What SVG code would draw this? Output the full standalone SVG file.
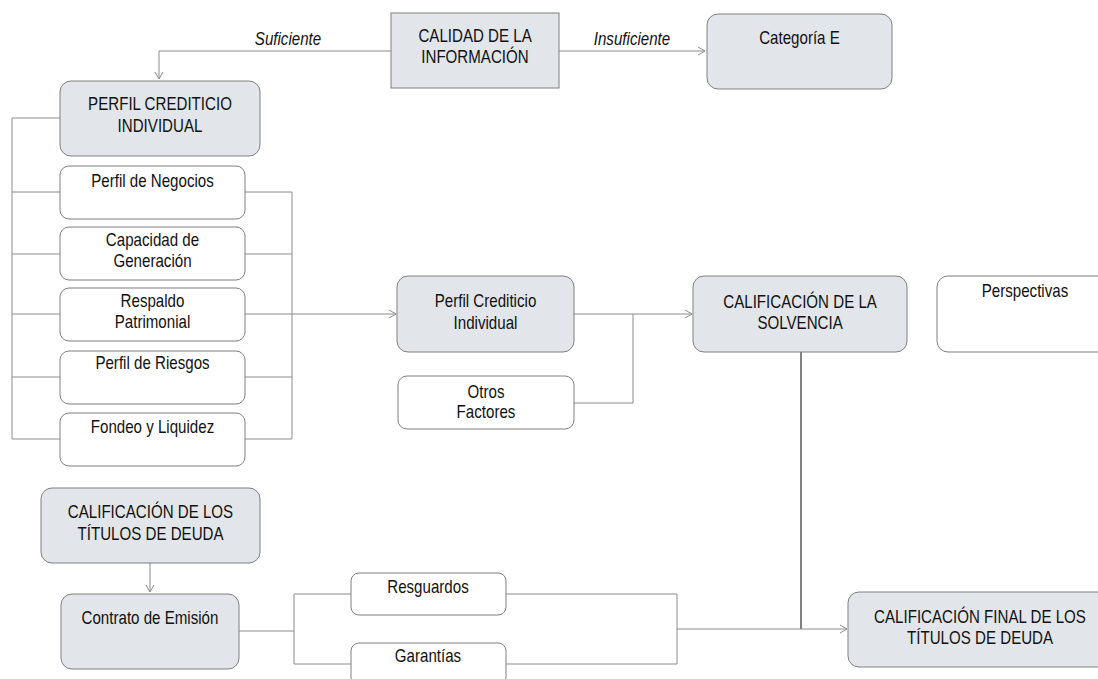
<svg xmlns="http://www.w3.org/2000/svg" width="1098" height="679" viewBox="0 0 1098 679">
<style>
.g{fill:#e2e6ea;stroke:#7f7f7f;stroke-width:1}
.w{fill:#ffffff;stroke:#7f7f7f;stroke-width:1}
.t{font-family:"Liberation Sans Narrow","Arial Narrow","Liberation Sans",sans-serif;font-size:18px;fill:#111111;text-anchor:middle;transform-box:fill-box;transform-origin:center;transform:scaleX(0.84)}
.i{font-style:italic}
.c{fill:none;stroke:#8c8c8c;stroke-width:1}
.d{fill:none;stroke:#3c3c3c;stroke-width:1.3}
</style>
<defs>
<marker id="ar" markerWidth="10" markerHeight="10" refX="8" refY="5" orient="auto" markerUnits="userSpaceOnUse">
<path d="M1,1 L8,5 L1,9" fill="none" stroke="#8c8c8c" stroke-width="1"/>
</marker>
</defs>
<rect width="1098" height="679" fill="#ffffff"/>
<g id="connectors">
<path class="c" d="M391,51 H159 V79" marker-end="url(#ar)"/>
<path class="c" d="M559,51 H705" marker-end="url(#ar)"/>
<path class="c" d="M60,118 H12 V439 M12,192 H60 M12,254 H60 M12,314 H60 M12,377 H60 M12,439 H60"/>
<path class="c" d="M245,192 H292 V439 H245 M245,254 H292 M245,377 H292"/>
<path class="c" d="M245,314 H396" marker-end="url(#ar)"/>
<path class="c" d="M574,314 H692" marker-end="url(#ar)"/>
<path class="c" d="M574,403 H633 V314"/>
<path class="d" d="M801,352 V629"/>
<path class="c" d="M150,563 V592" marker-end="url(#ar)"/>
<path class="c" d="M239,631 H294 M294,594 V664 M294,594 H351 M294,664 H351"/>
<path class="c" d="M506,594 H677 V664 H506"/>
<path class="c" d="M677,629 H847" marker-end="url(#ar)"/>
</g>
<g id="calidad">
<rect class="g" x="391" y="13" width="168" height="75"/>
<text class="t" x="475" y="42">CALIDAD DE LA</text>
<text class="t" x="475" y="63">INFORMACIÓN</text>
</g>
<g id="lbl-suficiente"><text class="t i" x="288" y="45">Suficiente</text></g>
<g id="lbl-insuficiente"><text class="t i" x="632" y="45">Insuficiente</text></g>
<g id="categoria-e">
<rect class="g" x="707" y="14" width="185" height="75" rx="11"/>
<text class="t" x="799.5" y="44">Categoría E</text>
</g>
<g id="perfil-crediticio-individual">
<rect class="g" x="60" y="81" width="200" height="75" rx="11"/>
<text class="t" x="160" y="110">PERFIL CREDITICIO</text>
<text class="t" x="160" y="132">INDIVIDUAL</text>
</g>
<g id="perfil-negocios">
<rect class="w" x="60" y="166" width="185" height="53" rx="9"/>
<text class="t" x="152.5" y="187">Perfil de Negocios</text>
</g>
<g id="capacidad-generacion">
<rect class="w" x="60" y="227" width="185" height="53" rx="9"/>
<text class="t" x="152.5" y="246">Capacidad de</text>
<text class="t" x="152.5" y="267">Generación</text>
</g>
<g id="respaldo-patrimonial">
<rect class="w" x="60" y="288" width="185" height="53" rx="9"/>
<text class="t" x="152.5" y="307">Respaldo</text>
<text class="t" x="152.5" y="328">Patrimonial</text>
</g>
<g id="perfil-riesgos">
<rect class="w" x="60" y="351" width="185" height="53" rx="9"/>
<text class="t" x="152.5" y="369">Perfil de Riesgos</text>
</g>
<g id="fondeo-liquidez">
<rect class="w" x="60" y="413" width="185" height="53" rx="9"/>
<text class="t" x="152.5" y="433">Fondeo y Liquidez</text>
</g>
<g id="perfil-crediticio">
<rect class="g" x="397" y="276" width="177" height="76" rx="11"/>
<text class="t" x="485.5" y="307">Perfil Crediticio</text>
<text class="t" x="485.5" y="329">Individual</text>
</g>
<g id="otros-factores">
<rect class="w" x="398" y="376" width="176" height="53" rx="9"/>
<text class="t" x="486" y="398">Otros</text>
<text class="t" x="486" y="418">Factores</text>
</g>
<g id="calificacion-solvencia">
<rect class="g" x="693" y="276" width="214" height="76" rx="11"/>
<text class="t" x="800" y="308">CALIFICACIÓN DE LA</text>
<text class="t" x="800" y="329">SOLVENCIA</text>
</g>
<g id="perspectivas">
<rect class="w" x="937" y="276" width="176" height="76" rx="11"/>
<text class="t" x="1025" y="297">Perspectivas</text>
</g>
<g id="calificacion-titulos">
<rect class="g" x="41" y="488" width="219" height="75" rx="11"/>
<text class="t" x="150.5" y="518">CALIFICACIÓN DE LOS</text>
<text class="t" x="150.5" y="540">TÍTULOS DE DEUDA</text>
</g>
<g id="contrato-emision">
<rect class="g" x="61" y="594" width="178" height="75" rx="11"/>
<text class="t" x="150" y="624">Contrato de Emisión</text>
</g>
<g id="resguardos">
<rect class="w" x="351" y="573" width="155" height="42" rx="8"/>
<text class="t" x="428" y="593">Resguardos</text>
</g>
<g id="garantias">
<rect class="w" x="351" y="643" width="155" height="42" rx="8"/>
<text class="t" x="428" y="662">Garantías</text>
</g>
<g id="calificacion-final">
<rect class="g" x="848" y="592" width="264" height="75" rx="11"/>
<text class="t" x="980" y="623">CALIFICACIÓN FINAL DE LOS</text>
<text class="t" x="980" y="644">TÍTULOS DE DEUDA</text>
</g>
</svg>
